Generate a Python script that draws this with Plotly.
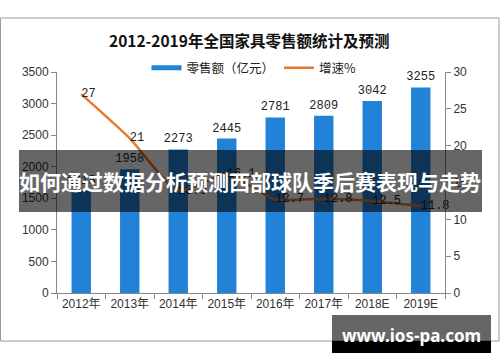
import plotly.graph_objects as go

years = ["2012年", "2013年", "2014年", "2015年", "2016年", "2017年", "2018E", "2019E"]
sales = [1618, 1958, 2273, 2445, 2781, 2809, 3042, 3255]
growth = [27, 21, 13.9, 16.1, 12.7, 12.8, 12.5, 11.8]
growth_text = ["27", "21", "13.9", "16.1", "12.7", "12.8", "12.5", "11.8"]

BLUE = "#2182D8"
ORANGE = "#E8792F"
NUMFONT = "Liberation Mono, Noto Sans CJK SC"
TICKFONT = "Liberation Sans, Noto Sans CJK SC"

# plot area in pixels: x 57..445, y 72..293
L, R, T, B = 57, 445, 72, 293
W, H = R - L, B - T
def px(x):
    return (x - L) / W
def py(y):
    return (B - y) / H

fig = go.Figure()
fig.add_trace(go.Bar(
    x=years, y=sales, marker_color=BLUE, marker_line_width=0,
    text=[str(v) for v in sales], textposition="outside", constraintext="none",
    textfont=dict(family=NUMFONT, size=12, color="#222"),
    cliponaxis=False, showlegend=False, yaxis="y",
))
fig.add_trace(go.Scatter(
    x=years, y=growth, mode="lines+text", yaxis="y2",
    line=dict(color=ORANGE, width=2.5, shape="spline", smoothing=0.6),
    text=growth_text, textposition="middle right",
    textfont=dict(family=NUMFONT, size=12, color="#222"),
    cliponaxis=False, showlegend=False,
))
# legend entries
fig.add_trace(go.Scatter(x=[None], y=[None], mode="lines", name="零售额（亿元）",
                         line=dict(color=BLUE, width=5)))
fig.add_trace(go.Scatter(x=[None], y=[None], mode="lines", name="增速%",
                         line=dict(color=ORANGE, width=2.5), yaxis="y2"))

shapes = [
    # chart border
    dict(type="rect", xref="paper", yref="paper", x0=px(0.5), x1=px(499), y0=py(18), y1=py(341),
         line=dict(color="#9a9a9a", width=1), fillcolor="rgba(0,0,0,0)", layer="below"),
    # overlay banner
    dict(type="rect", xref="paper", yref="paper", x0=px(19), x1=px(482), y0=py(150), y1=py(212),
         line=dict(width=0), fillcolor="rgba(0,0,0,0.6)", layer="above"),
    # site box
    dict(type="rect", xref="paper", yref="paper", x0=px(332), x1=px(491), y0=py(315), y1=py(341),
         line=dict(width=0), fillcolor="rgba(0,0,0,0.6)", layer="above"),
    dict(type="rect", xref="paper", yref="paper", x0=px(332), x1=px(491), y0=py(341), y1=py(353),
         line=dict(width=0), fillcolor="#000000", layer="above"),
]

annotations = [
    dict(text="<b>2012-2019年全国家具零售额统计及预测</b>", xref="paper", yref="paper",
         x=px(249), y=py(40), showarrow=False, xanchor="center", yanchor="middle",
         font=dict(family="Noto Sans CJK SC", size=15.5, color="#111")),
    dict(text="<b>如何通过数据分析预测西部球队季后赛表现与走势</b>", xref="paper", yref="paper",
         x=px(250), y=py(181), showarrow=False, xanchor="center", yanchor="middle",
         font=dict(family="Noto Sans CJK SC", size=21, color="#ffffff")),
    dict(text="<b>www.ios-pa.com</b>", xref="paper", yref="paper",
         x=px(411), y=py(335), showarrow=False, xanchor="center", yanchor="middle",
         font=dict(family="Noto Sans", size=17, color="#ffffff")),
]

fig.update_layout(
    width=500, height=362,
    margin=dict(l=L, r=500 - R, t=T, b=362 - B),
    paper_bgcolor="white", plot_bgcolor="white",
    bargap=0.6,
    shapes=shapes, annotations=annotations,
    legend=dict(orientation="h", x=px(254), y=py(68), xanchor="center", yanchor="middle",
                font=dict(family="Noto Sans CJK SC", size=12.5, color="#222"),
                bgcolor="rgba(0,0,0,0)", itemwidth=30, tracegroupgap=0),
    xaxis=dict(type="category", showgrid=False, showline=True, linecolor="#888", linewidth=1,
               ticks="outside", ticklen=5, tickcolor="#888", tickson="boundaries",
               tickfont=dict(family=TICKFONT, size=12, color="#333")),
    yaxis=dict(range=[0, 3500], tickvals=list(range(0, 3501, 500)), showgrid=False,
               showline=True, linecolor="#888", linewidth=1, ticks="outside", ticklen=5,
               tickcolor="#888", zeroline=False,
               tickfont=dict(family=TICKFONT, size=12, color="#333")),
    yaxis2=dict(range=[0, 30], tickvals=list(range(0, 31, 5)), overlaying="y", side="right",
                showgrid=False, showline=True, linecolor="#888", linewidth=1, ticks="outside",
                ticklen=5, tickcolor="#888", zeroline=False,
                tickfont=dict(family=TICKFONT, size=12, color="#333")),
)

fig.write_html("out.html", config={"displayModeBar": False},
               post_script="document.body.style.margin='0';")
